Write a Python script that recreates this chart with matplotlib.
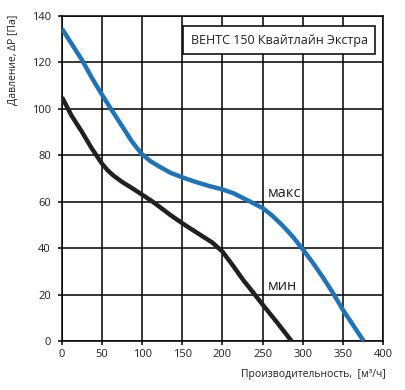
import numpy as np
import matplotlib
matplotlib.use("Agg")
import matplotlib.pyplot as plt

# fan curves (flow m3/h, pressure Pa)
max_flow = [0, 12, 25, 37, 50, 61, 75, 87, 99, 110, 122, 135, 150, 165, 184, 200,
            214, 225, 237, 250, 262, 275, 288, 300, 312, 325, 338, 350, 363, 376]
max_pres = [134.5, 128, 121, 113.5, 106, 100, 92.5, 86, 80.7, 77.5, 75, 72.5, 70.5, 68.7, 66.7, 65.3,
            63.6, 61.7, 59.6, 57.3, 54, 49.7, 44.8, 39.5, 34, 27.5, 20.5, 13.5, 6.7, 0]
min_flow = [0, 12, 25, 37, 50, 57, 64, 75, 88, 100, 111, 122, 135, 150, 162, 172,
            187, 200, 213, 226, 238, 250, 268, 286]
min_pres = [105, 97, 90, 83, 76.3, 73.5, 71.3, 68.5, 65.7, 63, 60.5, 57.7, 54.3, 50.7, 48, 45.8,
            42.5, 38.5, 32.5, 26.2, 21, 15.7, 8, 0]

title = "ВЕНТС 150 Квайтлайн Экстра"
x_ticks = [0, 50, 100, 150, 200, 250, 300, 350, 400]
y_ticks = [0, 20, 40, 60, 80, 100, 120, 140]

plt.rcParams["font.family"] = ["Open Sans", "DejaVu Sans"]
text_col = "#231f20"

fig = plt.figure(figsize=(4.06, 3.90), dpi=100)
ax = fig.add_axes([0.1527, 0.1256, 0.7906, 0.8334])

ax.set_xlim(0, 400)
ax.set_ylim(0, 140)
ax.set_xticks(x_ticks)
ax.set_yticks(y_ticks)
ax.grid(True, color="black", linewidth=1.1)
for s in ax.spines.values():
    s.set_color("black")
    s.set_linewidth(1.1)
ax.tick_params(direction="out", length=3, width=1.1, color="black",
               labelsize=8, labelcolor=text_col)
ax.tick_params(axis="y", pad=5)
ax.tick_params(axis="x", pad=3)

ax.plot(max_flow, max_pres, color="#1f73b8", linewidth=3.2,
        solid_capstyle="butt", solid_joinstyle="round", zorder=3)
ax.plot(min_flow, min_pres, color="#231f20", linewidth=3.2,
        solid_capstyle="butt", solid_joinstyle="round", zorder=3)

ax.text(257, 62, "макс", fontsize=10.5, color=text_col, ha="left", va="baseline")
ax.text(257, 22, "мин", fontsize=10.5, color=text_col, ha="left", va="baseline")

ax.text(0.9533, 0.925, title, transform=ax.transAxes, fontsize=9, color=text_col,
        ha="right", va="center", zorder=5,
        bbox=dict(boxstyle="square,pad=0.6", facecolor="white", edgecolor="black", linewidth=1.1))

fig.text(13 / 406, 1 - 15 / 390, "Давление, ΔP [Па]", rotation=90, fontsize=7.5,
         color=text_col, ha="center", va="top")
fig.text(386 / 406, 1 - 375 / 390, "Производительность,  [м³/ч]", fontsize=7.5,
         color=text_col, ha="right", va="center")

fig.savefig("out.png", dpi=100)
